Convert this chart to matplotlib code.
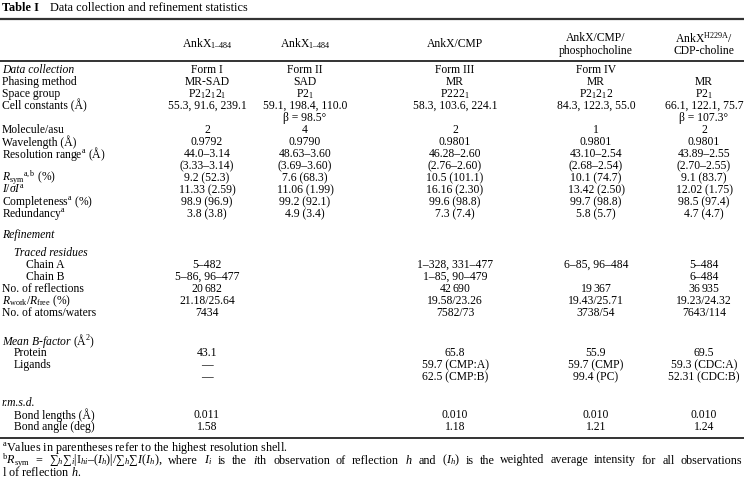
import matplotlib
matplotlib.use('Agg')
import matplotlib.pyplot as plt

plt.rcParams['font.family'] = ['Liberation Serif', 'DejaVu Serif']
plt.rcParams['mathtext.fontset'] = 'custom'
plt.rcParams['mathtext.rm'] = 'Liberation Serif'
plt.rcParams['mathtext.it'] = 'Liberation Serif:italic'
plt.rcParams['mathtext.bf'] = 'Liberation Serif:bold'

# table contents
title_bold = "Table I"
title_text = "Data collection and refinement statistics"

headers = [
    [r"AnkX$_{\mathrm{1–484}}$"],
    [r"AnkX$_{\mathrm{1–484}}$"],
    ["AnkX/CMP"],
    ["AnkX/CMP/", "phosphocholine"],
    [r"AnkX$^{\mathrm{H229A}}$/", "CDP-choline"],
]

# (label, indent level, italic section label)
row_labels = [
    ("Data collection", 0, True),
    ("Phasing method", 0, False),
    ("Space group", 0, False),
    ("Cell constants (Å)", 0, False),
    ("", 0, False),
    ("Molecule/asu", 0, False),
    ("Wavelength (Å)", 0, False),
    (r"Resolution range$^{\mathrm{a}}$ (Å)", 0, False),
    ("", 0, False),
    (r"$R_{\mathrm{sym}}$$^{\mathrm{a,b}}$ (%)", 0, False),
    (r"$I/\sigma I^{\mathrm{a}}$", 0, False),
    (r"Completeness$^{\mathrm{a}}$ (%)", 0, False),
    (r"Redundancy$^{\mathrm{a}}$", 0, False),
    ("Refinement", 0, True),
    ("Traced residues", 1, True),
    ("Chain A", 2, False),
    ("Chain B", 2, False),
    ("No. of reflections", 0, False),
    (r"$R_{\mathrm{work}}/R_{\mathrm{free}}$ (%)", 0, False),
    ("No. of atoms/waters", 0, False),
    (r"$Mean\ B$-$factor$ (Å$^{2}$)", 0, False),
    ("Protein", 1, False),
    ("Ligands", 1, False),
    ("", 0, False),
    ("r.m.s.d.", 0, True),
    ("Bond lengths (Å)", 1, False),
    ("Bond angle (deg)", 1, False),
]

col1 = ["Form I", "MR-SAD", r"P2$_1$2$_1$2$_1$", "55.3, 91.6, 239.1", "",
        "2", "0.9792", "44.0–3.14", "(3.33–3.14)", "9.2 (52.3)", "11.33 (2.59)",
        "98.9 (96.9)", "3.8 (3.8)", "", "", "5–482", "5–86, 96–477",
        r"20$\,$682", "21.18/25.64", "7434", "", "43.1", "—", "—", "",
        "0.011", "1.58"]
col2 = ["Form II", "SAD", r"P2$_1$", "59.1, 198.4, 110.0", "β = 98.5°",
        "4", "0.9790", "48.63–3.60", "(3.69–3.60)", "7.6 (68.3)", "11.06 (1.99)",
        "99.2 (92.1)", "4.9 (3.4)", "", "", "", "",
        "", "", "", "", "", "", "", "",
        "", ""]
col3 = ["Form III", "MR", r"P222$_1$", "58.3, 103.6, 224.1", "",
        "2", "0.9801", "46.28–2.60", "(2.76–2.60)", "10.5 (101.1)", "16.16 (2.30)",
        "99.6 (98.8)", "7.3 (7.4)", "", "", "1–328, 331–477", "1–85, 90–479",
        r"42$\,$690", "19.58/23.26", "7582/73", "", "65.8", "59.7 (CMP:A)",
        "62.5 (CMP:B)", "", "0.010", "1.18"]
col4 = ["Form IV", "MR", r"P2$_1$2$_1$2", "84.3, 122.3, 55.0", "",
        "1", "0.9801", "43.10–2.54", "(2.68–2.54)", "10.1 (74.7)", "13.42 (2.50)",
        "99.7 (98.8)", "5.8 (5.7)", "", "", "6–85, 96–484", "",
        r"19$\,$367", "19.43/25.71", "3738/54", "", "55.9", "59.7 (CMP)",
        "99.4 (PC)", "", "0.010", "1.21"]
col5 = ["", "MR", r"P2$_1$", "66.1, 122.1, 75.7", "β = 107.3°",
        "2", "0.9801", "43.89–2.55", "(2.70–2.55)", "9.1 (83.7)", "12.02 (1.75)",
        "98.5 (97.4)", "4.7 (4.7)", "", "", "5–484", "6–484",
        r"36$\,$935", "19.23/24.32", "7643/114", "", "69.5", "59.3 (CDC:A)",
        "52.31 (CDC:B)", "", "0.010", "1.24"]
columns = [col1, col2, col3, col4, col5]

footnote_a = r"$^{\mathrm{a}}$Values in parentheses refer to the highest resolution shell."
footnote_b = (r"$^{\mathrm{b}}$$R_{\mathrm{sym}}$ = ∑$_h$∑$_i$|I$_{hi}$–($I_h$)|/∑$_h$∑$I$($I_h$), "
              r"where $I_i$ is the $i$th observation of reflection $h$ and ($I_h$) is the "
              r"weighted average intensity for all observations")
footnote_c = r"l of reflection $h$."

# layout (pixels)
W, H = 744, 479
col_x = [207, 305, 455, 596, 704]
indent_x = [2, 14, 26]
fs = 8.4
fs_note = 8.7
row_step = 12.0
extra_gap = {13: 9, 14: 6, 20: 16, 24: 14}

fig = plt.figure(figsize=(W / 100, H / 100), dpi=100)
ax = fig.add_axes([0, 0, 1, 1])
ax.set_xlim(0, W)
ax.set_ylim(H, 0)
ax.axis('off')

ax.text(2, 8, title_bold, fontsize=8.8, fontweight='bold', va='center')
ax.text(50, 8, title_text, fontsize=8.8, va='center')

ax.plot([0, W], [19, 19], color='#333333', lw=1.6)
ax.plot([0, W], [61, 61], color='#333333', lw=1.4)

for x, lines in zip(col_x, headers):
    if len(lines) == 1:
        ax.text(x, 44, lines[0], fontsize=fs, ha='center', va='center')
    else:
        ax.text(x, 38, lines[0], fontsize=fs, ha='center', va='center')
        ax.text(x, 51, lines[1], fontsize=fs, ha='center', va='center')

y = 70
row_y = []
for i in range(len(row_labels)):
    y += extra_gap.get(i, 0)
    row_y.append(y)
    y += row_step

for (label, level, italic), ry in zip(row_labels, row_y):
    if label:
        ax.text(indent_x[level], ry, label, fontsize=fs, va='center',
                style='italic' if italic else 'normal')

for x, col in zip(col_x, columns):
    for val, ry in zip(col, row_y):
        if val:
            ax.text(x, ry, val, fontsize=fs, ha='center', va='center')

bottom = row_y[-1] + 11
ax.plot([0, W], [bottom, bottom], color='#333333', lw=1.4)

ax.text(2, bottom + 10.5, footnote_a, fontsize=fs_note, va='center')
ax.text(2, bottom + 35, footnote_c, fontsize=fs_note, va='center')

# justified second footnote line: spread the words over the full width
fig.canvas.draw()
renderer = fig.canvas.get_renderer()
words = footnote_b.split(' ')
texts = [ax.text(0, bottom + 22.5, w, fontsize=fs_note, va='center') for w in words]
widths = [t.get_window_extent(renderer).width for t in texts]
gap = (W - 4 - sum(widths)) / (len(words) - 1)
xpos = 2
for t, w in zip(texts, widths):
    t.set_x(xpos)
    xpos += w + gap

fig.savefig('out.png', dpi=100)
